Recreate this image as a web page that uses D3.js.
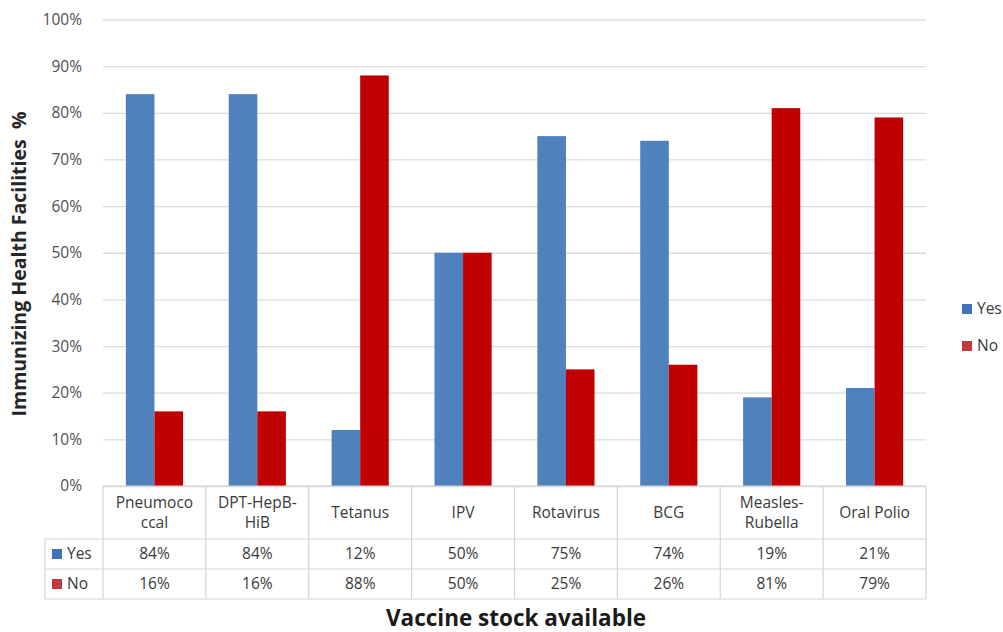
<!DOCTYPE html>
<html>
<head>
<meta charset="utf-8">
<script src="https://cdn.jsdelivr.net/npm/d3@7"></script>
<style>
  html, body { margin: 0; padding: 0; background: #fff; }
  svg { display: block; }
  text { white-space: pre; }
</style>
</head>
<body>
<svg id="chart" width="1003" height="632"></svg>
<script>
// Vaccine stock availability in immunizing health facilities
const categories = [
  ["Pneumoco", "ccal"],
  ["DPT-HepB-", "HiB"],
  ["Tetanus"],
  ["IPV"],
  ["Rotavirus"],
  ["BCG"],
  ["Measles-", "Rubella"],
  ["Oral Polio"]
];
const seriesNames = ["Yes", "No"];
const yesValues = [84, 84, 12, 50, 75, 74, 19, 21];
const noValues  = [16, 16, 88, 50, 25, 26, 81, 79];
const yTicks = [0, 10, 20, 30, 40, 50, 60, 70, 80, 90, 100];

const colors = { Yes: "#4f81bd", No: "#c00000" };
const legendColors = { Yes: "#3f73b7", No: "#c0393b" };
const font = "'Open Sans', 'Noto Sans', sans-serif";
const textSize = 15.5;

const svg = d3.select("#chart");
const catKeys = categories.map(c => c.join(" "));
const values = { Yes: yesValues, No: noValues };

const plot = { left: 103, right: 926, top: 19.5, bottom: 486 };

const x0 = d3.scaleBand().domain(catKeys).range([plot.left, plot.right]).padding(0);
const x1 = d3.scaleBand().domain(seriesNames).range([0, x0.bandwidth()])
  .paddingInner(0).paddingOuter(0.8);
const y = d3.scaleLinear().domain([0, 100]).range([plot.bottom, plot.top]);

// gridlines and percentage ticks
const yAxis = d3.axisLeft(y).tickValues(yTicks).tickFormat(d => d + "%")
  .tickSize(-(plot.right - plot.left)).tickPadding(21);
const gy = svg.append("g").attr("transform", `translate(${plot.left},0)`).call(yAxis);
gy.select(".domain").remove();
gy.selectAll(".tick line").attr("stroke", "#dcdcdc").attr("stroke-width", 1.3);
gy.selectAll(".tick text").attr("fill", "#505050").attr("font-family", font)
  .attr("font-size", textSize);

// bars
const groups = svg.append("g").selectAll("g")
  .data(catKeys).join("g")
  .attr("transform", d => `translate(${x0(d)},0)`);
groups.selectAll("rect")
  .data((d, i) => seriesNames.map(s => ({ s, v: values[s][i] })))
  .join("rect")
  .attr("x", d => x1(d.s))
  .attr("width", x1.bandwidth())
  .attr("y", d => y(d.v))
  .attr("height", d => y(0) - y(d.v))
  .attr("fill", d => colors[d.s]);

// data table
const rows = { headTop: 486, yesTop: 539, noTop: 569, bottom: 599 };
const tableLeft = 45;
const tbl = svg.append("g").attr("stroke", "#d4d4d4").attr("stroke-width", 1.2);
const bounds = catKeys.map(k => x0(k)).concat([plot.right]);
tbl.selectAll("line.v").data(bounds).join("line")
  .attr("x1", d => d).attr("x2", d => d)
  .attr("y1", rows.headTop).attr("y2", rows.bottom);
tbl.append("line").attr("x1", tableLeft).attr("x2", tableLeft)
  .attr("y1", rows.yesTop).attr("y2", rows.bottom);
tbl.append("line").attr("x1", plot.left).attr("x2", plot.right)
  .attr("y1", rows.headTop).attr("y2", rows.headTop);
[rows.yesTop, rows.noTop, rows.bottom].forEach(yy => {
  tbl.append("line").attr("x1", tableLeft).attr("x2", plot.right)
    .attr("y1", yy).attr("y2", yy);
});

// header labels
const head = svg.append("g").attr("font-family", font).attr("font-size", textSize)
  .attr("fill", "#3a3a3a").attr("text-anchor", "middle");
categories.forEach((lines, i) => {
  const cx = x0(catKeys[i]) + x0.bandwidth() / 2;
  const cy = (rows.headTop + rows.yesTop) / 2;
  const lh = 20;
  lines.forEach((t, j) => {
    head.append("text")
      .attr("x", cx)
      .attr("y", cy + (j - (lines.length - 1) / 2) * lh)
      .attr("dy", "0.35em")
      .text(t);
  });
});

// value rows with their series keys
seriesNames.forEach((s, si) => {
  const top = si === 0 ? rows.yesTop : rows.noTop;
  const bot = si === 0 ? rows.noTop : rows.bottom;
  const cy = (top + bot) / 2;
  head.selectAll(null).data(values[s]).join("text")
    .attr("x", (d, i) => x0(catKeys[i]) + x0.bandwidth() / 2)
    .attr("y", cy).attr("dy", "0.35em")
    .text(d => d + "%");
  svg.append("rect").attr("x", 52).attr("y", cy - 5).attr("width", 10).attr("height", 10)
    .attr("fill", legendColors[s]);
  svg.append("text").attr("x", 67).attr("y", cy).attr("dy", "0.35em")
    .attr("font-family", font).attr("font-size", textSize).attr("fill", "#3a3a3a").text(s);
});

// legend on the right
seriesNames.forEach((s, i) => {
  const ly = 309 + i * 37;
  svg.append("rect").attr("x", 962).attr("y", ly - 5).attr("width", 10).attr("height", 10)
    .attr("fill", legendColors[s]);
  svg.append("text").attr("x", 977).attr("y", ly).attr("dy", "0.35em")
    .attr("font-family", font).attr("font-size", textSize).attr("fill", "#3a3a3a").text(s);
});

// axis titles
svg.append("text")
  .attr("transform", "translate(19,264) rotate(-90)")
  .attr("text-anchor", "middle").attr("dy", "0.35em")
  .attr("font-family", font).attr("font-weight", "bold").attr("font-size", 19.5)
  .attr("fill", "#262626")
  .text("Immunizing Health Facilities  %");

svg.append("text")
  .attr("x", 516).attr("y", 618)
  .attr("text-anchor", "middle").attr("dy", "0.35em")
  .attr("font-family", font).attr("font-weight", "bold").attr("font-size", 22.5)
  .attr("fill", "#1a1a1a")
  .text("Vaccine stock available");
</script>
</body>
</html>
